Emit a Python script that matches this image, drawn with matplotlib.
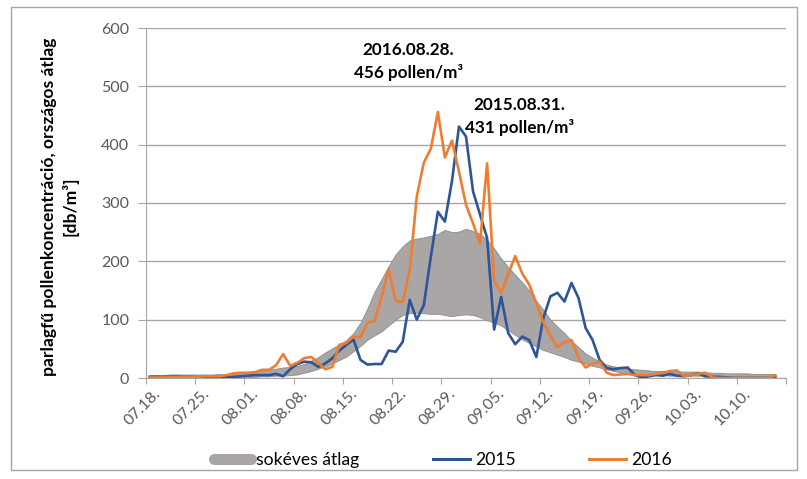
import matplotlib
matplotlib.use("Agg")
import matplotlib.pyplot as plt
from matplotlib.patches import Rectangle
from matplotlib.lines import Line2D

plt.rcParams["font.family"] = ["Lato", "DejaVu Sans"]

# napi értékek 07.18.-tól (90 nap)
band_upper = [5, 5, 5, 6, 6, 6, 6, 6, 6, 6,
              7, 7, 8, 9, 10, 11, 12, 14, 16, 18,
              19, 21, 24, 30, 36, 44, 51, 58, 65, 77,
              95, 120, 148, 170, 192, 212, 226, 236, 239, 241,
              244, 247, 254, 250, 251, 256, 252, 247, 237, 222,
              205, 190, 177, 164, 150, 132, 117, 100, 88, 77,
              64, 53, 42, 35, 28, 23, 20, 18, 16, 15,
              14, 13, 12, 12, 11, 11, 11, 11, 11, 10,
              9, 9, 8, 8, 8, 8, 7, 7, 7, 7]
band_lower = [1, 1, 1, 1, 1, 1, 1, 1, 1, 1,
              1, 2, 2, 2, 2, 2, 3, 3, 4, 4,
              5, 6, 9, 12, 16, 20, 25, 31, 37, 46,
              55, 66, 73, 80, 90, 100, 108, 111, 112, 111,
              110, 110, 108, 106, 108, 109, 108, 104, 99, 95,
              90, 82, 74, 66, 60, 54, 48, 44, 40, 36,
              31, 28, 25, 21, 18, 15, 12, 10, 8, 7,
              6, 5, 5, 5, 4, 4, 4, 4, 4, 4,
              3, 3, 3, 3, 3, 3, 3, 3, 3, 3]
y2015 = [2, 2, 2, 3, 3, 2, 2, 1, 1, 1,
         1, 1, 2, 3, 4, 5, 5, 5, 7, 3,
         15, 24, 28, 27, 19, 25, 34, 47, 57, 66,
         31, 23, 24, 24, 47, 45, 62, 134, 100, 125,
         208, 285, 268, 337, 431, 414, 320, 280, 240, 83,
         139, 77, 58, 71, 65, 36, 103, 140, 146, 131,
         163, 137, 86, 65, 31, 17, 15, 17, 18, 5,
         1, 3, 5, 4, 7, 4, 3, 5, 8, 3,
         2, 2, 1, 0, 0, 0, 0, 0, 0, 0]
y2016 = [1, 1, 1, 2, 2, 2, 2, 2, 3, 3,
         3, 5, 8, 9, 9, 10, 14, 14, 22, 41,
         21, 26, 34, 36, 26, 15, 19, 57, 60, 71,
         70, 95, 98, 139, 186, 132, 130, 185, 311, 369,
         393, 456, 378, 407, 354, 297, 265, 231, 368, 167,
         146, 178, 209, 179, 160, 128, 95, 72, 53, 61,
         65, 35, 18, 24, 28, 9, 5, 6, 7, 5,
         5, 5, 7, 9, 12, 13, 3, 5, 7, 9,
         1, 0, 0, 0, 0, 0, 0, 0, 1, 4]
tick_labels = ["07.18.", "07.25.", "08.01.", "08.08.", "08.15.", "08.22.", "08.29.",
               "09.05.", "09.12.", "09.19.", "09.26.", "10.03.", "10.10."]

days = list(range(len(y2015)))

C_BAND = "#AAA6A6"
C_2015 = "#2E5597"
C_2016 = "#ED7D31"
C_TXT = "#595959"

fig = plt.figure(figsize=(8.07, 4.79), dpi=100)
ax = fig.add_axes([146 / 807, 1 - 378 / 479, 640 / 807, 350 / 479])

ax.fill_between(days, band_lower, band_upper, color=C_BAND, edgecolor="#8C8C8C",
                linewidth=0.6, zorder=2)
ax.plot(days, y2015, color=C_2015, lw=1.9, zorder=3)
ax.plot(days, y2016, color=C_2016, lw=1.9, zorder=4)

ax.set_xlim(-0.5, 90.5)
ax.set_ylim(0, 600)
ax.set_yticks(range(0, 601, 100))
ax.yaxis.grid(True, color="#A6A6A6", lw=1)
ax.set_axisbelow(True)
ax.tick_params(axis="y", labelsize=11.5, colors="#A6A6A6", labelcolor=C_TXT, length=6, pad=6)

ax.set_xticks([-0.5 + 7 * k for k in range(14)])
ax.set_xticklabels([])
ax.tick_params(axis="x", which="major", length=4, colors="#A6A6A6")
ax.set_xticks([7 * k + 0.5 for k in range(len(tick_labels))], labels=tick_labels, minor=True)
ax.tick_params(axis="x", which="minor", length=0, pad=6, labelsize=11.5, labelcolor=C_TXT)
for t in ax.get_xticklabels(minor=True):
    t.set_rotation(45)
    t.set_ha("right")
    t.set_rotation_mode("anchor")

for s in ["top", "right"]:
    ax.spines[s].set_visible(False)
ax.spines["left"].set_color("#A6A6A6")
ax.spines["bottom"].set_color("#A6A6A6")

ax.set_ylabel("parlagfű pollenkoncentráció, országos átlag\n[db/m³]",
              fontsize=12.6, fontweight="bold", linespacing=1.3)
ax.yaxis.set_label_coords(-0.106, 0.49)

ax.text(36.8, 542, "2016.08.28.\n456 pollen/m³", ha="center", va="center",
        fontsize=12.3, fontweight="bold", linespacing=1.45)
ax.text(52.6, 448, "2015.08.31.\n431 pollen/m³", ha="center", va="center",
        fontsize=12.3, fontweight="bold", linespacing=1.45)

handles = [Line2D([], [], color=C_BAND, lw=8, solid_capstyle="round"),
           Line2D([], [], color=C_2015, lw=2.2),
           Line2D([], [], color=C_2016, lw=2.2)]
fig.legend(handles, ["sokéves átlag", "2015", "2016"], loc="center",
           bbox_to_anchor=(0.549, 1 - 460 / 479), ncol=3, frameon=False,
           fontsize=12.6, handlelength=2.1, columnspacing=4.2, handletextpad=0.3)

fig.patches.append(Rectangle((11 / 807, 1 - 470 / 479), 786 / 807, 463 / 479,
                             transform=fig.transFigure, fill=False,
                             edgecolor="#A6A6A6", lw=1))

fig.savefig("out.png", dpi=100, facecolor="white")
